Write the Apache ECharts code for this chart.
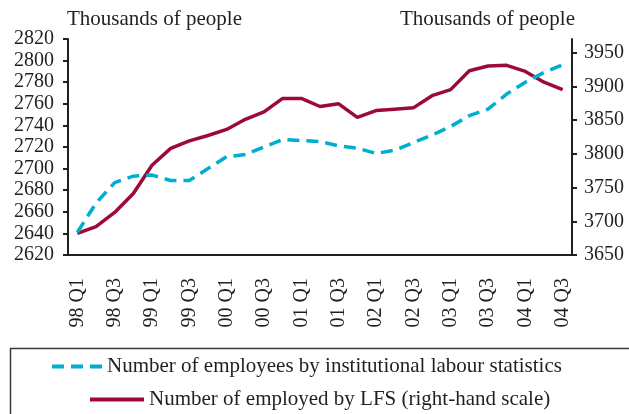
<!DOCTYPE html>
<html>
<head>
<meta charset="utf-8">
<script src="https://cdn.jsdelivr.net/npm/echarts@6/dist/echarts.min.js"></script>
<style>
  html, body { margin: 0; padding: 0; background: #fff; }
  #chart { width: 629px; height: 414px; }
</style>
</head>
<body>
<div id="chart"></div>
<script>
var quarters = ['98 Q1', '98 Q2', '98 Q3', '98 Q4', '99 Q1', '99 Q2', '99 Q3', '99 Q4',
    '00 Q1', '00 Q2', '00 Q3', '00 Q4', '01 Q1', '01 Q2', '01 Q3', '01 Q4',
    '02 Q1', '02 Q2', '02 Q3', '02 Q4', '03 Q1', '03 Q2', '03 Q3', '03 Q4',
    '04 Q1', '04 Q2', '04 Q3'];

// left-hand scale
var employees = [2641, 2668, 2687, 2693, 2694, 2689, 2689, 2700, 2711, 2713, 2720, 2727, 2726, 2725,
    2721, 2719, 2714, 2717, 2724, 2731, 2739, 2749, 2755, 2769, 2780, 2789, 2796];

// right-hand scale
var employedLFS = [3682, 3692, 3713, 3741, 3783, 3808, 3819, 3827, 3836, 3851, 3862, 3882, 3882, 3870,
    3874, 3854, 3864, 3866, 3868, 3886, 3895, 3923, 3930, 3931, 3922, 3906, 3895];

var rightTicks = [3650, 3700, 3750, 3800, 3850, 3900, 3950];

var seriesNames = ['Number of employees by institutional labour statistics',
    'Number of employed by LFS (right-hand scale)'];

var ink = '#231f20';
var font = "'Liberation Serif', 'Times New Roman', serif";

function plain(v) { return String(v); }

var chart = echarts.init(document.getElementById('chart'));

var option = {
    animation: false,
    textStyle: { fontFamily: font, color: ink },
    grid: {
        left: 68,
        right: 57,
        top: 39,
        bottom: 159
    },
    legend: [{
        data: [seriesNames[0]],
        left: 50,
        top: 356,
        padding: 0,
        itemWidth: 50,
        itemHeight: 14,
        itemGap: 8,
        itemStyle: { opacity: 0 },
        lineStyle: { width: 4 },
        textStyle: { fontFamily: font, fontSize: 21, color: ink }
    }, {
        data: [seriesNames[1]],
        left: 88,
        top: 389,
        padding: 0,
        itemWidth: 54,
        itemHeight: 14,
        itemStyle: { opacity: 0 },
        lineStyle: { width: 4 },
        textStyle: { fontFamily: font, fontSize: 21, color: ink }
    }],
    graphic: [{
        type: 'rect',
        left: 8,
        top: 346,
        shape: { width: 640, height: 100 },
        style: { fill: 'none', stroke: '#3a3a3a', lineWidth: 1.5 }
    }],
    xAxis: {
        type: 'category',
        data: quarters,
        boundaryGap: true,
        axisLine: { lineStyle: { color: ink, width: 2 } },
        axisTick: { interval: 1, length: 5, lineStyle: { color: ink, width: 2 } },
        axisLabel: {
            interval: 1,
            rotate: 90,
            margin: 23,
            fontSize: 20,
            fontFamily: font,
            color: ink
        }
    },
    yAxis: [{
        type: 'value',
        min: 2620,
        max: 2820,
        interval: 20,
        name: 'Thousands of people',
        nameLocation: 'end',
        nameGap: 9,
        nameTextStyle: { fontSize: 21, fontFamily: font, color: ink, align: 'left', verticalAlign: 'bottom', padding: [0, 0, 0, -1] },
        splitLine: { show: false },
        axisLine: { show: true, lineStyle: { color: ink, width: 2 } },
        axisTick: { show: true, length: 5, lineStyle: { color: ink, width: 2 } },
        axisLabel: { margin: 14, fontSize: 20, fontFamily: font, color: ink, formatter: plain }
    }, {
        type: 'value',
        position: 'right',
        min: 3650,
        max: 3970,
        interval: 50,
        name: 'Thousands of people',
        nameLocation: 'end',
        nameGap: 9,
        nameTextStyle: { fontSize: 21, fontFamily: font, color: ink, align: 'right', verticalAlign: 'bottom', padding: [0, -3, 0, 0] },
        splitLine: { show: false },
        axisLine: { show: true, lineStyle: { color: ink, width: 2 } },
        axisTick: { show: true, length: 5, customValues: rightTicks, lineStyle: { color: ink, width: 2 } },
        axisLabel: { margin: 12, fontSize: 20, fontFamily: font, color: ink, customValues: rightTicks, formatter: plain }
    }],
    series: [{
        name: seriesNames[0],
        type: 'line',
        yAxisIndex: 0,
        data: employees,
        symbol: 'none',
        z: 3,
        lineStyle: { color: '#00aecf', width: 3.5, type: [12, 7] },
        itemStyle: { color: '#00aecf' }
    }, {
        name: seriesNames[1],
        type: 'line',
        yAxisIndex: 1,
        data: employedLFS,
        symbol: 'none',
        z: 2,
        lineStyle: { color: '#9b0a3a', width: 3.5 },
        itemStyle: { color: '#9b0a3a' }
    }]
};

chart.setOption(option);

window.onresize = function () {
    chart.resize();
};
</script>
</body>
</html>
